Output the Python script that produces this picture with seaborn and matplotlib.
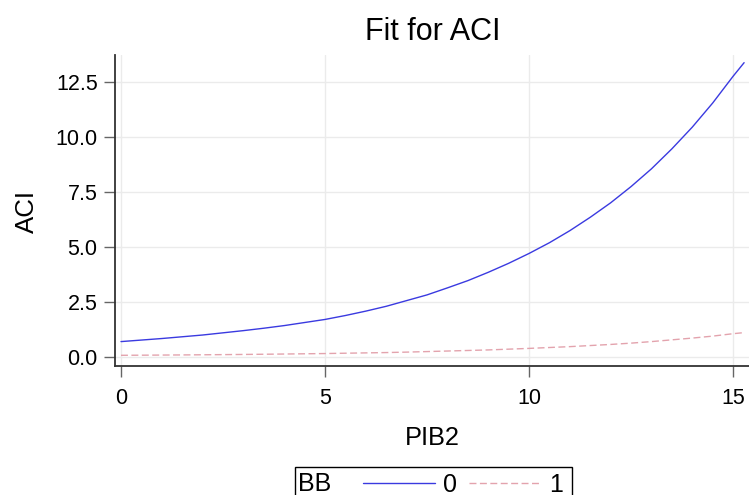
import numpy as np
import pandas as pd
import matplotlib
matplotlib.use("Agg")
import matplotlib.pyplot as plt
import seaborn as sns
from matplotlib.lines import Line2D
from matplotlib.patches import Rectangle
from matplotlib.ticker import FormatStrFormatter

# Fitted ACI by PIB2 for each BB group
pib2 = [0, 0.5, 1, 1.5, 2, 2.5, 3, 3.5, 4, 4.5, 5, 5.5, 6, 6.5, 7, 7.5, 8,
        8.5, 9, 9.5, 10, 10.5, 11, 11.5, 12, 12.5, 13, 13.5, 14, 14.5, 15,
        15.27]
aci_bb0 = [0.68, 0.75, 0.82, 0.90, 0.98, 1.08, 1.18, 1.29, 1.41, 1.55, 1.69,
           1.87, 2.07, 2.29, 2.55, 2.81, 3.13, 3.46, 3.84, 4.25, 4.70, 5.19,
           5.74, 6.35, 7.01, 7.75, 8.56, 9.47, 10.46, 11.56, 12.78, 13.40]
aci_bb1 = [0.055, 0.060, 0.066, 0.072, 0.079, 0.086, 0.094, 0.103, 0.113,
           0.124, 0.135, 0.150, 0.165, 0.180, 0.200, 0.225, 0.250, 0.275,
           0.300, 0.335, 0.370, 0.410, 0.450, 0.500, 0.550, 0.610, 0.680,
           0.760, 0.840, 0.930, 1.040, 1.090]
groups = ["0", "1"]
x_ticks = [0, 5, 10, 15]
y_ticks = [0.0, 2.5, 5.0, 7.5, 10.0, 12.5]

df = pd.DataFrame({
    "PIB2": pib2 * 2,
    "ACI": aci_bb0 + aci_bb1,
    "BB": [groups[0]] * len(pib2) + [groups[1]] * len(pib2),
})

sns.set_theme(style="white")
plt.rcParams["font.family"] = ["Liberation Sans", "DejaVu Sans"]
plt.rcParams["text.color"] = "black"
plt.rcParams["axes.labelcolor"] = "black"

colors = {"0": "#3a3ae0", "1": "#e3a3ad"}
dash_map = {"0": "", "1": (5, 2.5)}

W, H = 749, 495
fig = plt.figure(figsize=(W / 100, H / 100), dpi=100)
ax = fig.add_axes([115 / W, 1 - 366 / H, 634 / W, 311 / H])

sns.lineplot(data=df, x="PIB2", y="ACI", hue="BB", style="BB",
             palette=colors, dashes=dash_map, linewidth=1.0,
             legend=False, ax=ax, zorder=3)

ax.set_xlim(-0.147, 15.39)
ax.set_ylim(-0.433, 13.75)
ax.set_xticks(x_ticks)
ax.set_yticks(y_ticks)
ax.yaxis.set_major_formatter(FormatStrFormatter("%.1f"))

ax.grid(True, color="#ebebeb", linewidth=1.0)
ax.set_axisbelow(True)
for side in ["top", "right"]:
    ax.spines[side].set_visible(False)
for side in ["left", "bottom"]:
    ax.spines[side].set_color("#333333")
    ax.spines[side].set_linewidth(1.3)

ax.tick_params(axis="both", which="major", direction="out", length=8,
               width=1.0, color="#666666", labelsize=15.5, labelcolor="black")
ax.tick_params(axis="y", pad=4.5)
ax.tick_params(axis="x", pad=8)
ax.tick_params(left=True, bottom=True)

ax.set_xlabel("PIB2", fontsize=18.3, color="black")
ax.set_ylabel("ACI", fontsize=18.6, color="black")
ax.xaxis.set_label_coords(0.5, -0.193)
ax.yaxis.set_label_coords(-0.1207, 0.497)

fig.text(433 / W, 1 - 40 / H, "Fit for ACI", ha="center",
         va="baseline", fontsize=22, color="black")

# legend: framed row with the group title on the left
fig.add_artist(Rectangle((295 / W, 1 - 520 / H), 277 / W, 53.3 / H,
                         transform=fig.transFigure, facecolor="none",
                         edgecolor="black", linewidth=1.0, clip_on=False))
fig.text(298 / W, 1 - 491 / H, "BB", ha="left", va="baseline",
         fontsize=18, color="black")
handles = [Line2D([], [], color=colors["0"], linewidth=1.0),
           Line2D([], [], color=colors["1"], linewidth=1.0,
                  linestyle=(0, (5, 2.5)))]
fig.legend(handles, groups, ncol=2, loc="upper left",
           bbox_to_anchor=(363 / W, 1 - 472.5 / H),
           fontsize=18, frameon=False,
           handlelength=2.88, handletextpad=0.34, columnspacing=0.46,
           borderpad=0, borderaxespad=0)

fig.savefig("out.png", dpi=100)
